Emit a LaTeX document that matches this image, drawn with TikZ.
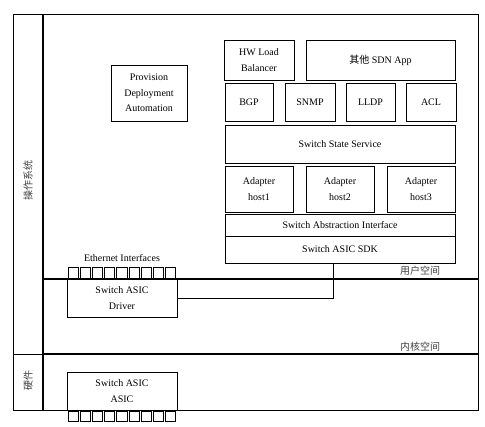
\documentclass[tikz,border=0pt]{standalone}
\usepackage{fontspec}
\setmainfont{Liberation Serif}
\newfontfamily\cjk{Noto Sans CJK SC}
\tikzset{
  blk/.style={draw, line width=0.7pt, align=center, inner sep=0pt, font=\fontsize{10}{15.5}\selectfont},
  port/.style={draw, line width=0.7pt, minimum width=10.2pt, minimum height=10.5pt, inner sep=0pt},
  zone/.style={font=\cjk\fontsize{10}{12}\selectfont, text=black!75},
}
\begin{document}
\begin{tikzpicture}[x=1pt, y=-1pt]
  \useasboundingbox (0,0) rectangle (485,427);
  % frame
  \draw[line width=0.7pt] (13,14) rectangle (478,410);
  \draw[line width=1.6pt] (43,14) -- (43,410);
  \draw[line width=1.6pt] (43,279) -- (478,279);
  \draw[line width=1.6pt] (43,354) -- (478,354);
  \draw[line width=0.7pt] (13,354) -- (43,354);
  % zones
  \node[zone, rotate=90] (os) at (28,181) {操作系统};
  \node[zone, rotate=90] (hw) at (28,381) {硬件};
  \node[zone] (user) at (420,271) {用户空间};
  \node[zone] (kernel) at (420,347) {内核空间};
  % user space
  \node[blk, minimum width=76pt, minimum height=56pt] (prov) at (149,93) {Provision\\Deployment\\Automation};
  \node[blk, minimum width=70pt, minimum height=40pt] (hwlb) at (259,60) {HW Load\\Balancer};
  \node[blk, minimum width=149pt, minimum height=40pt] (other) at (380.5,60) {{\cjk 其他} SDN App};
  \node[blk, minimum width=48pt, minimum height=38pt] (bgp) at (249,102) {BGP};
  \node[blk, minimum width=50pt, minimum height=38pt] (snmp) at (310,102) {SNMP};
  \node[blk, minimum width=49pt, minimum height=38pt] (lldp) at (370.5,102) {LLDP};
  \node[blk, minimum width=50pt, minimum height=38pt] (acl) at (431,102) {ACL};
  \node[blk, minimum width=230pt, minimum height=38pt] (sss) at (340,144) {Switch State Service};
  \node[blk, minimum width=68pt, minimum height=46pt] (host1) at (259,189) {Adapter\\host1};
  \node[blk, minimum width=68pt, minimum height=46pt] (host2) at (340,189) {Adapter\\host2};
  \node[blk, minimum width=68pt, minimum height=46pt] (host3) at (421,189) {Adapter\\host3};
  \node[blk, minimum width=230pt, minimum height=22pt] (sai) at (340,225) {Switch Abstraction Interface};
  \node[blk, minimum width=230pt, minimum height=27pt] (sdk) at (340,249.5) {Switch ASIC SDK};
  % kernel
  \node[blk, minimum width=110pt, minimum height=38pt] (drv) at (122,298) {Switch ASIC\\Driver};
  \foreach \i in {0,...,8}
    \node[port] (eth\i) at (73.1+12.2*\i,273) {};
  \node[font=\fontsize{10}{12}\selectfont] (ethlbl) at (122,258) {Ethernet Interfaces};
  \coordinate (tap) at (333,263);
  \draw[line width=0.7pt] (tap) |- (drv.east);
  % hardware
  \node[blk, minimum width=110pt, minimum height=38pt] (asic) at (122,391) {Switch ASIC\\ASIC};
  \foreach \i in {0,...,8}
    \node[port] (pin\i) at (73.1+12.2*\i,416.5) {};
\end{tikzpicture}
\end{document}
